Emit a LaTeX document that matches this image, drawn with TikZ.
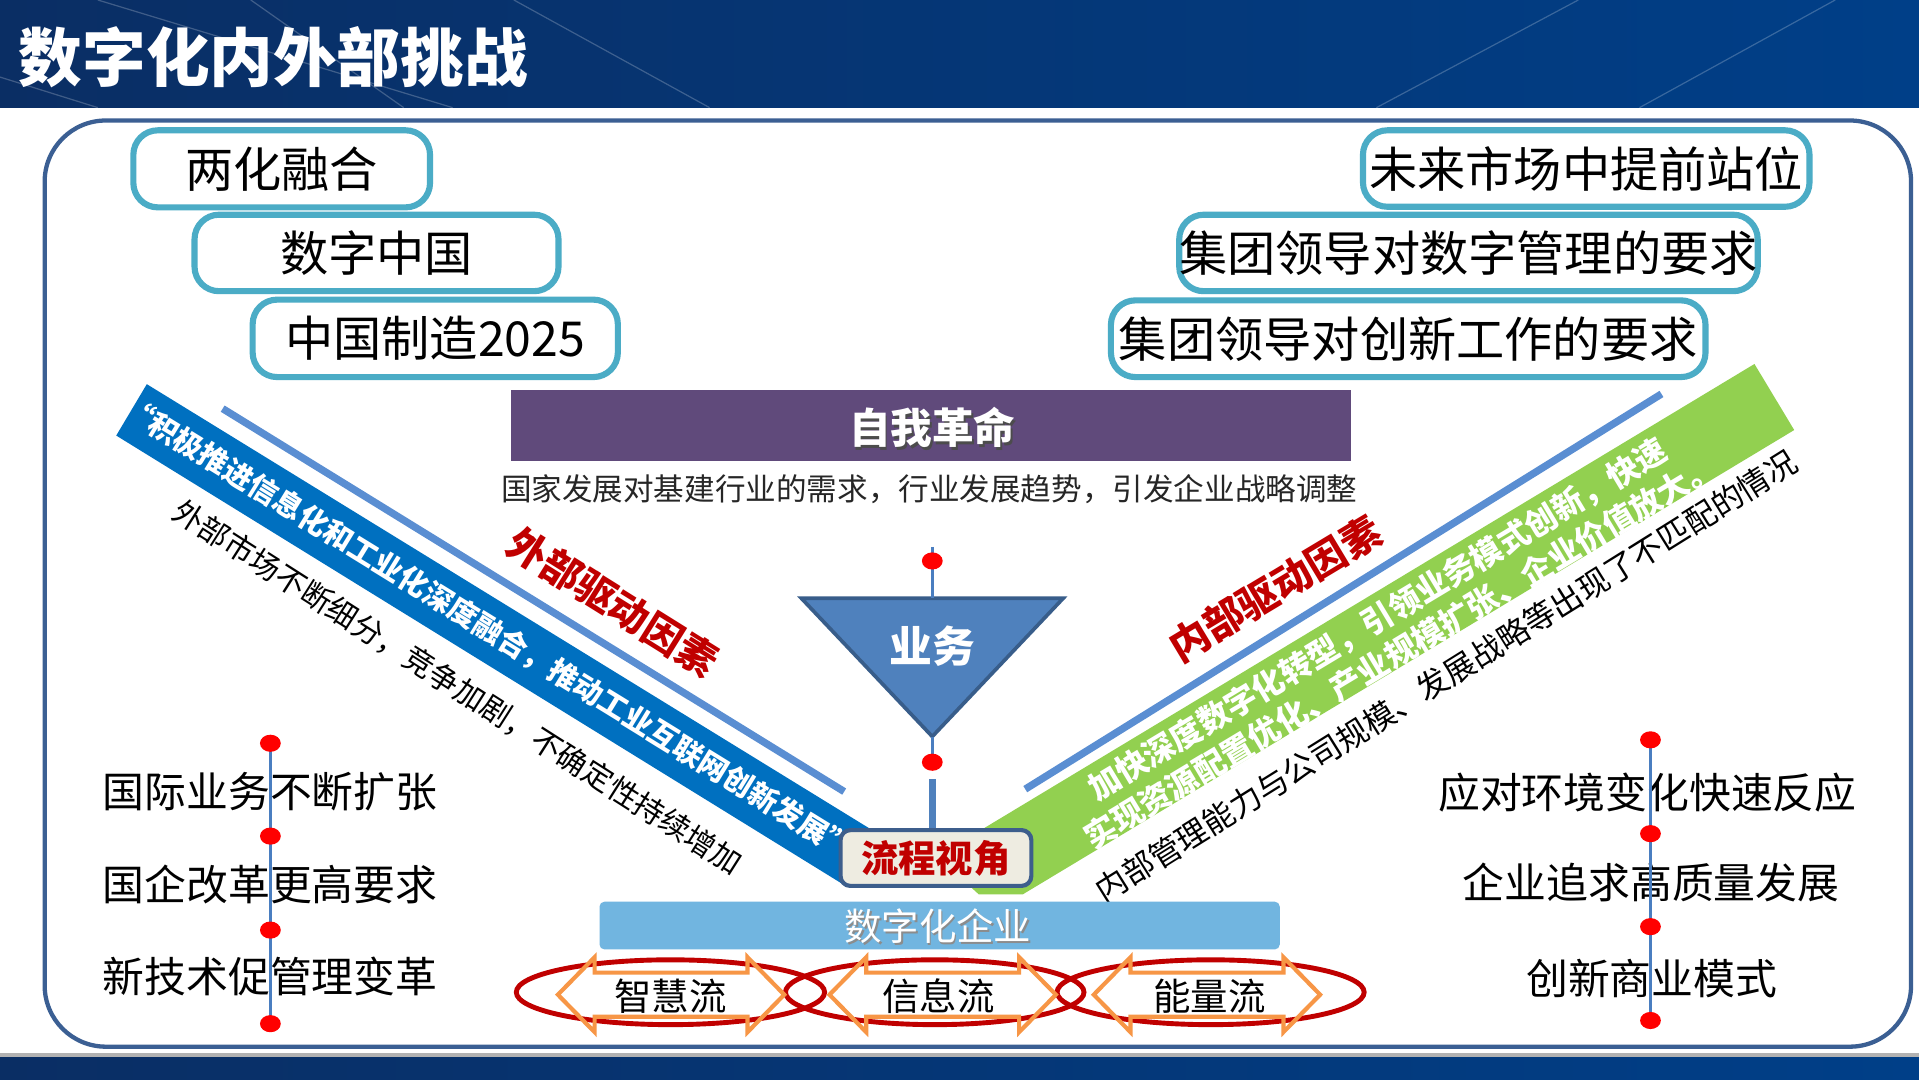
\documentclass[tikz,border=0pt]{standalone}
\usepackage{fontspec}
\setmainfont{Noto Sans CJK SC}
\usetikzlibrary{shapes.geometric}
\definecolor{barL}{HTML}{0A2E64}
\definecolor{barR}{HTML}{003F88}
\definecolor{frameblue}{HTML}{3B5F93}
\definecolor{boxcyan}{HTML}{4BACC6}
\definecolor{purp}{HTML}{604A7B}
\definecolor{bandblue}{HTML}{0070C0}
\definecolor{thinblue}{HTML}{5A8ED2}
\definecolor{bandgreen}{HTML}{92D050}
\definecolor{darkred}{HTML}{C00000}
\definecolor{triblue}{HTML}{4F81BD}
\definecolor{triedge}{HTML}{385D8A}
\definecolor{flowfill}{HTML}{EEECE1}
\definecolor{flowedge}{HTML}{3D5E8C}
\definecolor{barblue}{HTML}{71B5E0}
\definecolor{orangeA}{HTML}{F79646}
\definecolor{dotred}{HTML}{FF0000}
\definecolor{listline}{HTML}{4A7EC0}
\definecolor{subgray}{HTML}{262626}
\newcommand{\fsz}[1]{\fontsize{#1}{#1}\selectfont}
\pgfdeclarelayer{front}
\pgfsetlayers{main,front}
\tikzset{
  topbox/.style={draw=boxcyan, line width=2.5pt, rounded corners=10pt, fill=white, inner sep=0pt, font=\fsz{19.7}},
  listtxt/.style={inner sep=0pt, font=\fsz{17.1}},
  reddot/.style={ellipse, fill=dotred, minimum width=8.5pt, minimum height=7pt, inner sep=0pt},
  vline/.style={draw=listline, line width=1pt},
  diagline/.style={draw=thinblue, line width=3pt},
  redlabel/.style={text=darkred, inner sep=0pt, font=\fsz{16.3}\bfseries},
  greentxt/.style={rotate=31, text=white, inner sep=0pt, font=\fsz{13}\bfseries},
  flowell/.style={ellipse, draw=darkred, line width=2pt, inner sep=0pt},
  flowtxt/.style={inner sep=0pt, font=\fsz{15.3}},
  dblarrow/.pic={
    \draw[orangeA, line width=1.7pt, line join=miter]
      (-92.5,0) -- (-62.5,-30.6) -- (-62.5,-18) -- (62.5,-18) -- (62.5,-30.6)
      -- (92.5,0) -- (62.5,30.6) -- (62.5,18) -- (-62.5,18) -- (-62.5,30.6) -- cycle;
  }
}
\begin{document}
\begin{tikzpicture}[x=0.5pt,y=-0.5pt]
\useasboundingbox (0,0) rectangle (1568.5,882);
\fill[white] (0,0) rectangle (1568.5,882);
% title bar
\shade[left color=barL, right color=barR] (0,0) rectangle (1568.5,88);
\begin{scope}[draw=white, draw opacity=0.22, line width=0.5pt]
  \draw (80,0) -- (370,88);
  \draw (205,0) -- (330,88);
  \draw (0,63) -- (80,88);
  \draw (420,0) -- (580,88);
  \draw (1290,0) -- (1125,88);
  \draw (1500,0) -- (1340,88);
\end{scope}
\node[anchor=west, text=white, inner sep=0pt, font=\fsz{26}\bfseries] (title) at (15,47) {数字化内外部挑战};
% bottom bar
\fill[black!30] (0,861) rectangle (1568.5,864);
\shade[left color=barL, right color=barR] (0,864) rectangle (1568.5,882);
% frame
\draw[frameblue, line width=1.75pt, rounded corners=25pt] (36.5,98.5) rectangle (1562,855.5);

% top boxes
\node[topbox, minimum width=121.25pt, minimum height=31.5pt] (b1) at (230.25,138) {两化融合};
\node[topbox, minimum width=148.75pt, minimum height=31.25pt] (b2) at (307.75,206.75) {数字中国};
\node[topbox, minimum width=149.25pt, minimum height=31.65pt] (b3) at (355.75,276.55) {中国制造2025};
\node[topbox, minimum width=182.5pt, minimum height=31.25pt] (r1) at (1296.5,137.75) {未来市场中提前站位};
\node[topbox, minimum width=236.25pt, minimum height=31.25pt] (r2) at (1200.25,206.75) {集团领导对数字管理的要求};
\node[topbox, minimum width=243pt, minimum height=31.35pt] (r3) at (1151,276.85) {集团领导对创新工作的要求};

% purple bar
\node[fill=purp, minimum width=343.25pt, minimum height=29.1pt, inner sep=0pt] (revo) at (760.75,347.8) {};
\node[text=black!70, inner sep=0pt, font=\fsz{17}\bfseries] (revosh) at (763.5,351.5) {自我革命};
\node[text=white, inner sep=0pt, font=\fsz{17}\bfseries] (revotxt) at (762,349.5) {自我革命};
\node[text=subgray, inner sep=0pt, font=\fsz{12.5}] (subt) at (759.5,399.5) {国家发展对基建行业的需求，行业发展趋势，引发企业战略调整};

% left band
\fill[bandblue] (120,314) -- (730,689) -- (730,724) -- (691,724) -- (95,356) -- cycle;
\node[rotate=-31.6, text=white, inner sep=0pt, font=\fsz{12}\bfseries] (bandtxt) at (399,514) {“积极推进信息化和工业化深度融合，推动工业互联网创新发展”};
\draw[diagline] (182,334) -- (690,647);
\node[rotate=-32, redlabel] (extlabel) at (501,492) {外部驱动因素};
\node[rotate=-32.5, inner sep=0pt, font=\fsz{12.4}] (extdesc) at (374,561.5) {外部市场不断细分，竞争加剧，不确定性持续增加};

% right band
\fill[bandgreen] (1434,297.5) -- (1466.5,351.5) -- (836,731) -- (800,731) -- (766,700) -- cycle;
\node[greentxt] (intl1) at (1126,506.5) {加快深度数字化转型，引领业务模式创新，快速};
\node[greentxt] (intl2) at (1144.7,532.4) {实现资源配置优化、产业规模扩张、企业价值放大。};
\draw[diagline] (838,645) -- (1358,322);
\node[rotate=31, redlabel] (intlabel) at (1042,481) {内部驱动因素};
\node[rotate=32, inner sep=0pt, font=\fsz{12.9}] (intdesc2) at (1182,552.5) {内部管理能力与公司规模、发展战略等出现了不匹配的情况};

% triangle
\coordinate (triL) at (655,489);
\coordinate (triR) at (869,489);
\coordinate (triA) at (762,602);
\coordinate (triT) at (762,489);
\coordinate (vtop) at (762,447);
\coordinate (vgap) at (762,637);
\draw[fill=triblue, draw=triedge, line width=1.5pt, line join=miter] (triL) -- (triR) -- (triA) -- cycle;
\node[text=white, inner sep=0pt, font=\fsz{17.5}\bfseries] (biz) at (762,528) {业务};

% flow box
\node[fill=flowfill, draw=flowedge, line width=1.7pt, rounded corners=4pt, minimum width=77.95pt, minimum height=22.8pt, inner sep=0pt, text=darkred, font=\fsz{15.25}\bfseries] (flowbox) at (765,701.3) {流程视角};

\begin{pgfonlayer}{front}
  \node[reddot] (vd1) at (762,458.5) {};
  \node[reddot] (vd2) at (762,623) {};
  \node[reddot] (la) at (221,607.5) {};
  \node[reddot] (lb) at (221,683.4) {};
  \node[reddot] (lc) at (221,760.2) {};
  \node[reddot] (ld) at (221,836.7) {};
  \node[reddot] (ra) at (1349,604.7) {};
  \node[reddot] (rb) at (1349,681.4) {};
  \node[reddot] (rc) at (1349,757.4) {};
  \node[reddot] (rd) at (1349,834.1) {};
\end{pgfonlayer}
\draw[vline] (vtop) -- (triT);
\draw[vline] (triA) -- (vd2.center);
\draw[draw=triblue, line width=2.75pt] (vgap) -- (vgap |- flowbox.north);

% digital enterprise bar
\node[fill=barblue, rounded corners=2pt, minimum width=278pt, minimum height=19.5pt, inner sep=0pt] (dent) at (768,756.5) {};
\node[text=black!45, inner sep=0pt, font=\fsz{15.3}] (dentsh) at (768,758.5) {数字化企业};
\node[text=white, inner sep=0pt, font=\fsz{15.3}] (dentxt) at (766.5,757) {数字化企业};

% flows
\node[flowell, minimum width=126pt, minimum height=26.5pt] (e1) at (548,811) {};
\node[flowell, minimum width=122pt, minimum height=26.5pt] (e2) at (764,811) {};
\node[flowell, minimum width=125.5pt, minimum height=26.5pt] (e3) at (989.5,811) {};
\pic at (548.5,813) {dblarrow};
\pic at (770.5,813) {dblarrow};
\pic at (986.5,813) {dblarrow};
\node[flowtxt] (f1) at (548,814.5) {智慧流};
\node[flowtxt] (f2) at (767,814.5) {信息流};
\node[flowtxt] (f3) at (988.5,814.5) {能量流};

% left list
\node[listtxt] (lt1) at (220.7,647) {国际业务不断扩张};
\node[listtxt] (lt2) at (220.7,723) {国企改革更高要求};
\node[listtxt] (lt3) at (220.7,798.5) {新技术促管理变革};
\draw[vline] (la.center) -- (ld.center);
% right list
\node[listtxt] (rt1) at (1346.5,647.5) {应对环境变化快速反应};
\node[listtxt] (rt2) at (1349.5,721) {企业追求高质量发展};
\node[listtxt] (rt3) at (1350,799.5) {创新商业模式};
\draw[vline] (ra.center) -- (rd.center);
\end{tikzpicture}
\end{document}
